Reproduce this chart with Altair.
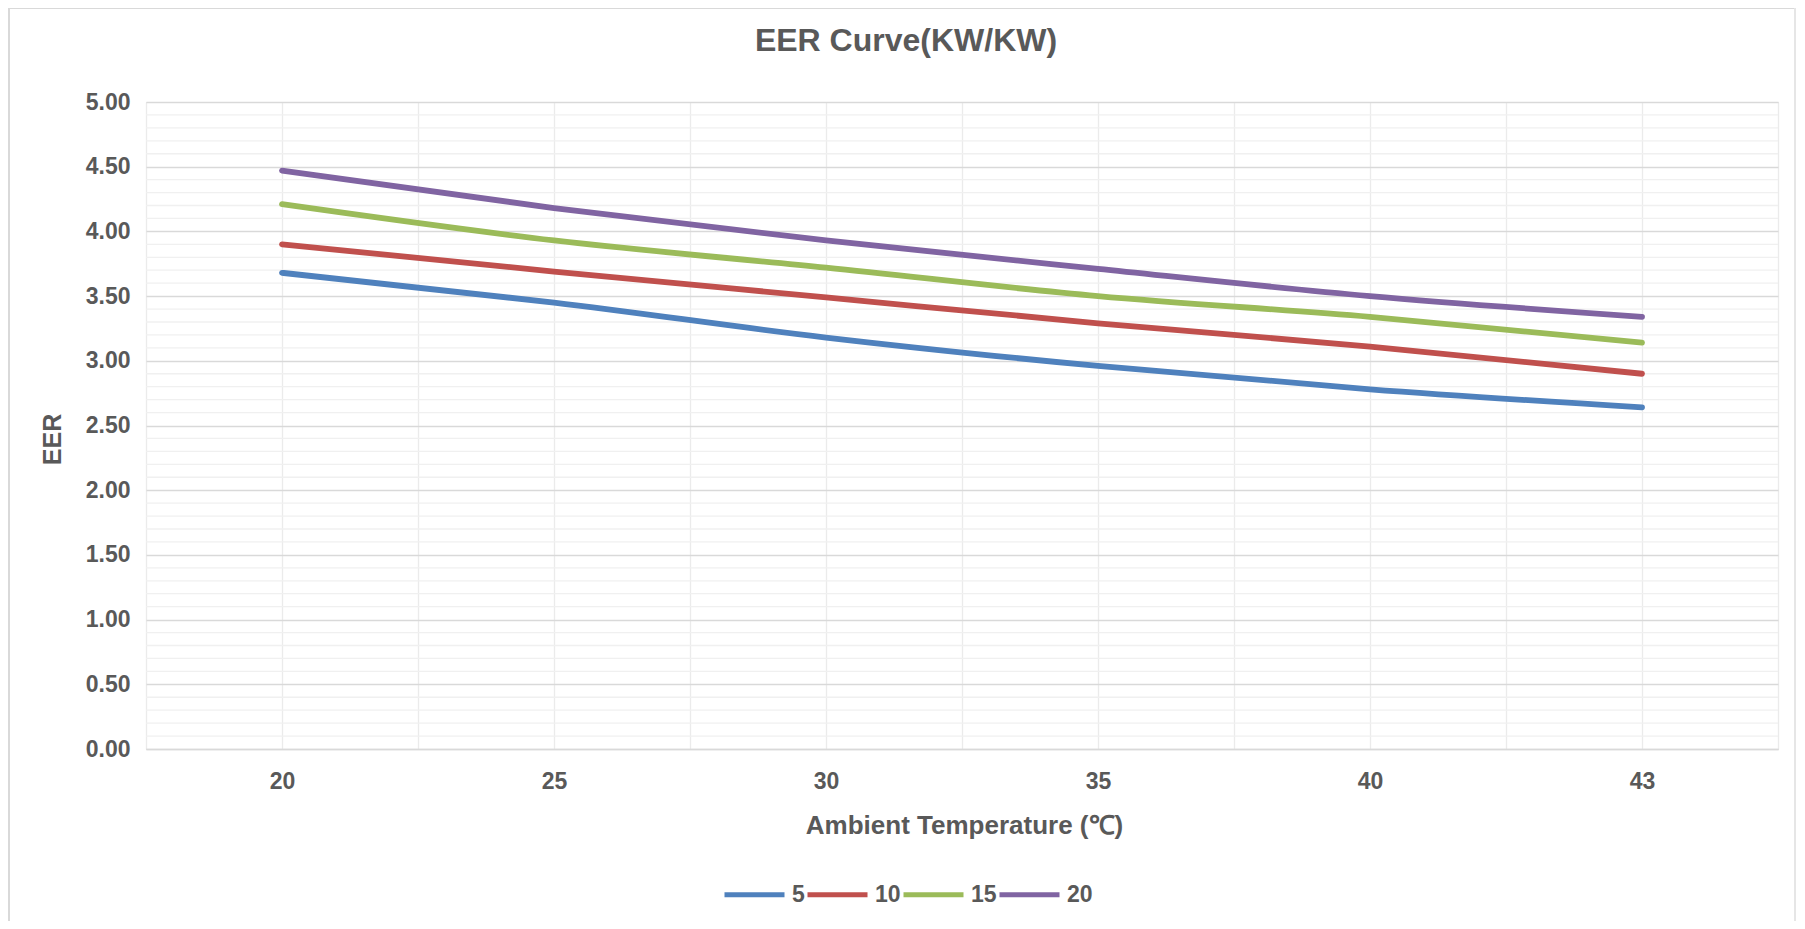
import altair as alt
import pandas as pd

# ---- data ----
temps = ["20", "25", "30", "35", "40", "43"]
series = ["5", "10", "15", "20"]
eer_5 = [3.68, 3.45, 3.18, 2.96, 2.78, 2.64]
eer_10 = [3.90, 3.69, 3.49, 3.29, 3.11, 2.90]
eer_15 = [4.21, 3.93, 3.72, 3.50, 3.34, 3.14]
eer_20 = [4.47, 4.18, 3.93, 3.71, 3.50, 3.34]
colors = ["#4F81BD", "#C0504D", "#9BBB59", "#8064A2"]
y_ticks = [0, 0.5, 1, 1.5, 2, 2.5, 3, 3.5, 4, 4.5, 5]

rows = []
for s, vals in zip(series, [eer_5, eer_10, eer_15, eer_20]):
    for i, (t, v) in enumerate(zip(temps, vals)):
        rows.append({"idx": i, "temp": t, "series": s, "eer": v})
df = pd.DataFrame(rows)

# minor horizontal gridlines (every 0.1)
minor_df = pd.DataFrame({"v": [round(i * 0.1, 1) for i in range(51) if i % 5]})

x_grid_vals = [i * 0.5 - 0.5 for i in range(13)]
label_expr = "datum.value % 1 == 0 ? " + str(temps) + "[datum.value] : ''"

FONT = "Liberation Sans"
TXT = "#595959"
W, H = 1632, 647

x_enc = alt.X(
    "idx:Q",
    scale=alt.Scale(domain=[-0.5, 5.5], nice=False, zero=False),
    axis=alt.Axis(
        values=x_grid_vals,
        labelExpr=label_expr,
        grid=True,
        gridColor="#ebebeb",
        gridWidth=1.3,
        ticks=False,
        domain=True,
        domainColor="#d9d9d9",
        domainWidth=1.5,
        labelPadding=21,
        labelFontSize=23,
        labelFont=FONT,
        labelFontWeight="bold",
        labelColor=TXT,
        title="Ambient Temperature (℃)",
        titleFont=FONT,
        titleFontSize=26,
        titleFontWeight="bold",
        titleColor=TXT,
        titleBaseline="alphabetic",
        titleX=818,
        titleY=84,
        titleAlign="center",
    ),
)

y_enc = alt.Y(
    "eer:Q",
    scale=alt.Scale(domain=[0, 5], nice=False),
    axis=alt.Axis(
        values=y_ticks,
        format=".2f",
        grid=True,
        gridColor="#d9d9d9",
        gridWidth=1.3,
        ticks=False,
        domain=False,
        labelPadding=16,
        labelFontSize=23,
        labelFont=FONT,
        labelFontWeight="bold",
        labelColor=TXT,
        title="EER",
        titleFont=FONT,
        titleFontSize=25,
        titleFontWeight="bold",
        titleColor=TXT,
        titleAngle=-90,
        titleBaseline="alphabetic",
        titleAlign="center",
        titleX=-86,
        titleY=337,
    ),
)

minor = alt.Chart(minor_df).mark_rule(color="#f0f0f0", strokeWidth=1.3).encode(
    y=alt.Y("v:Q", scale=alt.Scale(domain=[0, 5], nice=False))
)

lines = alt.Chart(df).mark_line(
    strokeWidth=5.8, interpolate="monotone", strokeCap="round", strokeJoin="round"
).encode(
    x=x_enc,
    y=y_enc,
    color=alt.Color(
        "series:N",
        sort=series,
        scale=alt.Scale(domain=series, range=colors),
        legend=alt.Legend(
            title=None,
            orient="none",
            direction="horizontal",
            legendX=576,
            legendY=760,
            offset=0,
            padding=0,
            symbolType="stroke",
            symbolSize=3600,
            symbolStrokeWidth=5,
            labelOffset=5,
            columnPadding=-8,
            labelFont=FONT,
            labelFontSize=23,
            labelFontWeight="bold",
            labelColor=TXT,
        ),
    ),
    detail="series:N",
)

border_df = pd.DataFrame({"a": [0]})
border_left = alt.Chart(border_df).mark_rule(color="#d9d9d9", strokeWidth=2).encode(
    x=alt.value(-137), y=alt.value(-94), y2=alt.value(H + 172)
)
border_top = alt.Chart(border_df).mark_rule(color="#d9d9d9", strokeWidth=2).encode(
    x=alt.value(-138), x2=alt.value(W + 18), y=alt.value(-94)
)
border_right = alt.Chart(border_df).mark_rule(color="#e6e6e6", strokeWidth=2).encode(
    x=alt.value(W + 17), y=alt.value(-94), y2=alt.value(H + 172)
)

chart = alt.layer(minor, lines, border_left, border_top, border_right).properties(
    width=W,
    height=H,
    autosize=alt.AutoSizeParams(type="none"),
    padding={"left": 138, "top": 94, "right": 19, "bottom": 172},
    title=alt.TitleParams(
        text="EER Curve(KW/KW)",
        font=FONT,
        fontSize=32,
        fontWeight="bold",
        color=TXT,
        anchor="middle",
        frame="group",
        baseline="alphabetic",
        offset=-76,
        dx=-56,
    ),
).configure_view(stroke=None).configure(background="white")

chart.save("out.html", embed_options={"renderer": "svg", "actions": False})
